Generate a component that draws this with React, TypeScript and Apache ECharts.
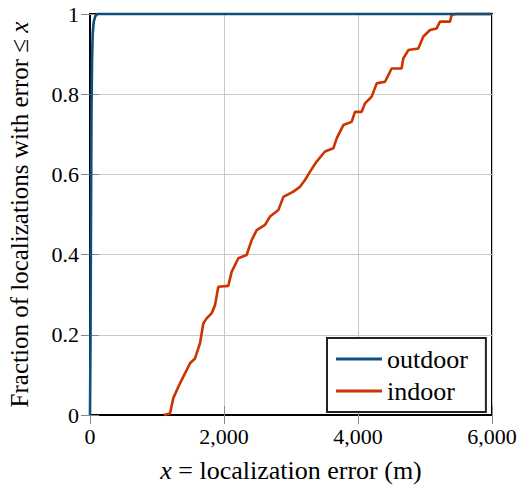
import React, { useEffect, useRef } from "react";
import * as echarts from "echarts";

const outdoorX = [0, 8, 15, 22, 30, 40, 55, 80, 110, 6000];
const outdoorY = [0, 0.2, 0.5, 0.75, 0.88, 0.95, 0.98, 0.995, 1, 1];

const indoorX = [1104, 1194, 1243, 1343, 1418, 1493, 1567, 1642, 1692, 1741, 1816, 1866, 1915, 2064, 2114, 2214, 2338, 2413, 2488, 2612, 2687, 2811, 2886, 3035, 3134, 3209, 3284, 3383, 3507, 3632, 3682, 3781, 3905, 3955, 4055, 4104, 4204, 4279, 4403, 4478, 4502, 4651, 4676, 4751, 4900, 4975, 5075, 5174, 5224, 5373, 5398, 5473, 6000];
const indoorY = [0, 0.004, 0.042, 0.079, 0.104, 0.129, 0.141, 0.179, 0.229, 0.241, 0.254, 0.274, 0.32, 0.322, 0.357, 0.391, 0.399, 0.436, 0.461, 0.474, 0.495, 0.511, 0.544, 0.557, 0.569, 0.586, 0.607, 0.632, 0.657, 0.665, 0.69, 0.723, 0.731, 0.756, 0.756, 0.777, 0.794, 0.827, 0.831, 0.856, 0.864, 0.864, 0.889, 0.91, 0.914, 0.944, 0.96, 0.964, 0.981, 0.981, 0.998, 1, 1];

const seriesNames = ["outdoor", "indoor"];
const xTicks = { min: 0, max: 6000, interval: 2000 };
const yTicks = { min: 0, max: 1, interval: 0.2 };

const FONT = "Liberation Serif, serif";

export default function App() {
  const ref = useRef<HTMLDivElement>(null);
  useEffect(() => {
    if (!ref.current) return;
    const chart = echarts.init(ref.current, null, { renderer: "svg" });
    const zip = (xs: number[], ys: number[]) => xs.map((x, i) => [x, ys[i]]);
    const mirrorTick = { show: true, inside: true, length: 9, lineStyle: { color: "#888", width: 1 } };
    const nameStyle = (size: number) => ({
      fontFamily: FONT,
      fontSize: size,
      color: "#000",
      rich: { i: { fontFamily: FONT, fontSize: size, fontStyle: "italic", color: "#000" } },
    });
    chart.setOption({
      animation: false,
      textStyle: { fontFamily: FONT },
      grid: {
        left: 90,
        right: 26,
        top: 14,
        bottom: 74,
        outerBoundsMode: "none",
        containLabel: false,
        show: true,
        borderColor: "#000",
        borderWidth: 2,
        backgroundColor: "transparent",
      },
      legend: {
        data: seriesNames,
        orient: "vertical",
        left: 327,
        top: 338,
        icon: "rect",
        itemWidth: 46,
        itemHeight: 3,
        itemGap: 6,
        padding: [8, 18, 8, 9],
        borderColor: "#222",
        borderWidth: 2,
        backgroundColor: "#fff",
        textStyle: { fontFamily: FONT, fontSize: 26, color: "#000", lineHeight: 25 },
      },
      xAxis: [
        {
          type: "value",
          ...xTicks,
          position: "bottom",
          name: "{i|x} = localization error (m)",
          nameLocation: "middle",
          nameGap: 42,
          nameTextStyle: nameStyle(26),
          axisLine: { show: true, lineStyle: { color: "#000", width: 2 } },
          axisTick: mirrorTick,
          axisLabel: {
            fontFamily: FONT,
            fontSize: 22,
            color: "#000",
            margin: 10,
            formatter: (v: number) => v.toLocaleString("en-US"),
          },
          splitLine: { show: true, lineStyle: { color: "#c8c8c8", width: 1 } },
        },
        {
          type: "value",
          ...xTicks,
          position: "top",
          axisLine: { show: false },
          axisTick: mirrorTick,
          axisLabel: { show: false },
          splitLine: { show: false },
        },
      ],
      yAxis: [
        {
          type: "value",
          ...yTicks,
          position: "left",
          name: "Fraction of localizations with error ≤ {i|x}",
          nameLocation: "middle",
          nameGap: 58,
          nameTextStyle: nameStyle(25),
          axisLine: { show: true, lineStyle: { color: "#000", width: 2 } },
          axisTick: mirrorTick,
          axisLabel: { fontFamily: FONT, fontSize: 22, color: "#000", margin: 11 },
          splitLine: { show: true, lineStyle: { color: "#c8c8c8", width: 1 } },
        },
        {
          type: "value",
          ...yTicks,
          position: "right",
          axisLine: { show: false },
          axisTick: mirrorTick,
          axisLabel: { show: false },
          splitLine: { show: false },
        },
      ],
      series: [
        {
          name: "indoor",
          type: "line",
          data: zip(indoorX, indoorY),
          symbol: "none",
          clip: false,
          color: "#cc3300",
          lineStyle: { color: "#cc3300", width: 2.6 },
          z: 3,
        },
        {
          name: "outdoor",
          type: "line",
          data: zip(outdoorX, outdoorY),
          symbol: "none",
          clip: false,
          color: "#0d4f7d",
          lineStyle: { color: "#0d4f7d", width: 2.6 },
          z: 4,
        },
      ],
    });
    return () => chart.dispose();
  }, []);
  return <div ref={ref} style={{ width: 518, height: 489, position: "absolute", left: 0, top: 0 }} />;
}
